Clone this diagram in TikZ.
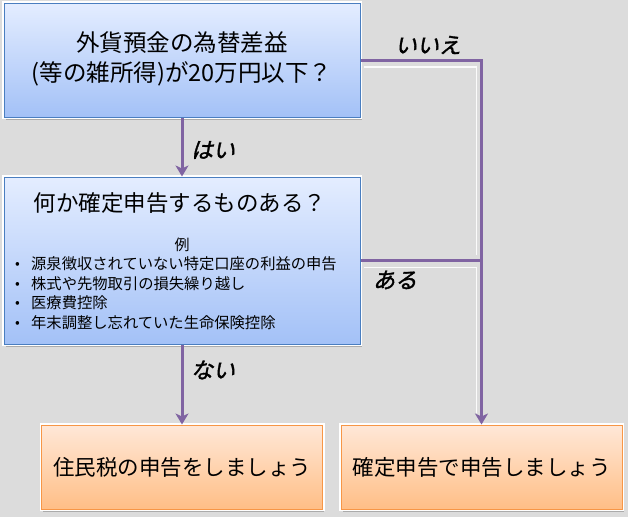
\documentclass[tikz,border=0pt]{standalone}
\usepackage{fontspec}
\setmainfont{Noto Sans CJK JP}
\newfontfamily\jplab[FakeSlant=0.22,FakeBold=1.6]{Noto Sans CJK JP}
\usetikzlibrary{shadows,arrows.meta,calc}
\definecolor{bg}{HTML}{DCDCDC}
\definecolor{bluetop}{HTML}{E4EDFF}
\definecolor{bluebot}{HTML}{A3C1F7}
\definecolor{blueedge}{HTML}{4A7EC0}
\definecolor{orangetop}{HTML}{FFE8D8}
\definecolor{orangebot}{HTML}{FFBE86}
\definecolor{orangeedge}{HTML}{F79646}
\definecolor{conn}{HTML}{8064A2}
\newcommand{\bul}{\makebox[16pt][l]{\raisebox{1pt}{\fontsize{14}{14}\selectfont •}}}
\tikzset{
  boxbase/.style={rectangle, inner sep=0pt, line width=1pt,
    drop shadow={shadow xshift=1.5pt, shadow yshift=-2.5pt, fill=black, opacity=0.22},
    preaction={draw=white, line width=4pt}},
  bluebox/.style={boxbase, draw=blueedge, top color=bluetop, bottom color=bluebot},
  orangebox/.style={boxbase, draw=orangeedge, top color=orangetop, bottom color=orangebot},
  conline/.style={draw=conn, line width=3pt},
  conarrow/.style={conline, -{Stealth[length=11pt,width=13pt,inset=3pt]}},
  shadowline/.style={draw=white, line width=1.2pt, opacity=0.9},
  lab/.style={font=\jplab\fontsize{22}{26}\selectfont, inner sep=0pt},
  itemtxt/.style={anchor=west, inner sep=0pt, font=\fontsize{15.3}{18}\selectfont}
}
\begin{document}
\begin{tikzpicture}[x=1pt,y=-1pt]
\fill[bg] (0,0) rectangle (628,517);
\useasboundingbox (0,0) rectangle (628,517);

% boxes
\node[bluebox, minimum width=356pt, minimum height=114pt, align=center,
      font=\fontsize{23.5}{30}\selectfont] (q1) at (182,60)
  {\begin{tabular}{@{}c@{}}外貨預金の為替差益\\(等の雑所得)が20万円以下？\end{tabular}};
\node[bluebox, minimum width=356pt, minimum height=167pt] (q2) at (182,260.5) {};
\node[orangebox, minimum width=281pt, minimum height=84pt,
      font=\fontsize{21.5}{24}\selectfont] (r1) at (182,467) {住民税の申告をしましょう};
\node[orangebox, minimum width=281pt, minimum height=84pt,
      font=\fontsize{21.5}{24}\selectfont] (r2) at (481.5,467) {確定申告で申告しましょう};

% texts in box 2
\node[inner sep=0pt, font=\fontsize{22.5}{26}\selectfont] (q2t) at (180,203) {何か確定申告するものある？};
\node[inner sep=0pt, font=\fontsize{15}{18}\selectfont] (ex) at (182,245) {例};
\node[itemtxt] (i1) at (15,264) {\bul 源泉徴収されていない特定口座の利益の申告};
\node[itemtxt] (i2) at (15,283.5) {\bul 株式や先物取引の損失繰り越し};
\node[itemtxt] (i3) at (15,303) {\bul 医療費控除};
\node[itemtxt] (i4) at (15,322.5) {\bul 年末調整し忘れていた生命保険控除};

% corner coordinates
\coordinate (c1) at (q1.east -| r2.north);
\coordinate (c2) at (q2.east -| r2.north);

% faint white shadow lines of the right connector
\draw[shadowline] ($(q1.east)+(3,7)$) -| ($(c2)+(-5,-6)$);
\draw[shadowline] ($(q2.east)+(3,7)$) -| ($(r2.north)+(-5,-12)$);

% connectors
\draw[conarrow] (q1.south) -- (q2.north);
\draw[conarrow] (q2.south) -- (r1.north);
\draw[conarrow] (q1.east) -- (c1) -- (r2.north);
\draw[conline] (q2.east) -- (c2);

% labels
\node[lab] (yes) at (213,150) {はい};
\node[lab] (no2) at (213,370) {ない};
\node[lab] (no1) at (428,45) {いいえ};
\node[lab] (yes2) at (395,280) {ある};
\end{tikzpicture}
\end{document}
